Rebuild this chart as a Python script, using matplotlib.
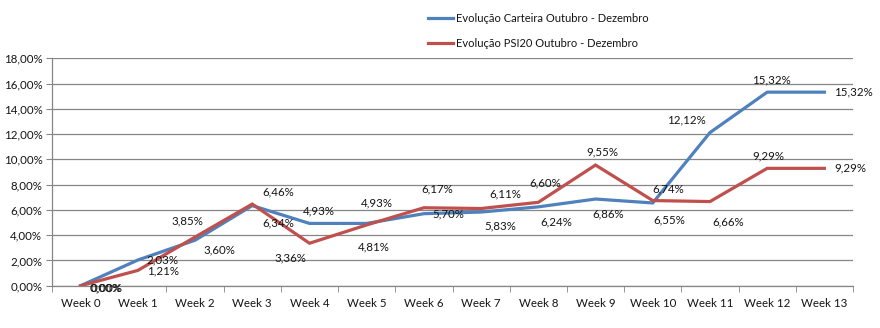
import numpy as np
import matplotlib
matplotlib.use('Agg')
from matplotlib import pyplot as plt
from matplotlib.ticker import FuncFormatter, MultipleLocator, FixedLocator

plt.rcParams['font.family'] = ['Lato', 'DejaVu Sans']
plt.rcParams['font.size'] = 8

#---- Data

weeks = ['Week 0', 'Week 1', 'Week 2', 'Week 3', 'Week 4', 'Week 5', 'Week 6',
         'Week 7', 'Week 8', 'Week 9', 'Week 10', 'Week 11', 'Week 12', 'Week 13']
carteira = [0.00, 2.03, 3.60, 6.34, 4.93, 4.93, 5.70, 5.83, 6.24, 6.86, 6.55, 12.12, 15.32, 15.32]
psi20 = [0.00, 1.21, 3.85, 6.46, 3.36, 4.81, 6.17, 6.11, 6.60, 9.55, 6.74, 6.66, 9.29, 9.29]

name_carteira = 'Evolução Carteira Outubro - Dezembro'
name_psi20 = 'Evolução PSI20 Outubro - Dezembro'

# label offsets in pixels (dx, dy), as placed in the original
off_carteira = [(25, -2), (25, 0), (24, -10), (26, -17), (9, 12), (10, 20), (24, 0),
                (19, -14), (18, -15), (13, -15), (17, -17), (-24, 13), (4, 12), (29, 0)]
off_psi20 = [(26, -2), (25, -1), (-8, 16), (26, 12), (-19, -15), (7, -22), (13, 19),
             (24, 15), (7, 19), (7, 13), (15, 12), (18, -20), (1, 12), (26, 0)]

BLUE = '#4F81BD'
RED = '#C0504D'
GRID = '#868686'
TEXT = '#141414'


def pct(v, pos=None):
    return ('%.2f%%' % v).replace('.', ',')


def plot_series(ax, x, y, color, label, offsets):
    ax.plot(x, y, color=color, lw=2.3, label=label, solid_joinstyle='miter', zorder=3)
    for xi, yi, (dx, dy) in zip(x, y, offsets):
        ax.annotate(pct(yi), (xi, yi), xytext=(dx, dy), textcoords='offset pixels',
                    ha='center', va='center', fontsize=8.3, color=TEXT, zorder=4)
    return ax


#---- Script

if __name__ == '__main__':

    fig = plt.figure(figsize=(8.8, 3.28), dpi=100)
    ax = fig.add_axes([52 / 880, 1 - 285.7 / 328, 801 / 880, 227.4 / 328])

    x = np.arange(len(weeks))
    plot_series(ax, x, carteira, BLUE, name_carteira, off_carteira)
    plot_series(ax, x, psi20, RED, name_psi20, off_psi20)

    ax.set_xlim(-0.5, len(weeks) - 0.5)
    ax.set_ylim(0, 18)
    ax.yaxis.set_major_locator(MultipleLocator(2))
    ax.yaxis.set_major_formatter(FuncFormatter(pct))
    ax.grid(axis='y', color=GRID, lw=0.9)
    ax.set_axisbelow(True)

    ax.set_xticks(x)
    ax.set_xticklabels(weeks)
    ax.xaxis.set_minor_locator(FixedLocator(np.arange(len(weeks) + 1) - 0.5))
    ax.tick_params(axis='x', which='major', length=0, pad=9, labelsize=8.3, colors=TEXT)
    ax.tick_params(axis='x', which='minor', length=4, color=GRID, direction='out')
    ax.tick_params(axis='y', length=4, labelsize=8.3, pad=3, colors=TEXT)
    ax.tick_params(axis='y', color=GRID)

    for s in ['top', 'right']:
        ax.spines[s].set_visible(False)
    for s in ['left', 'bottom']:
        ax.spines[s].set_color(GRID)
        ax.spines[s].set_linewidth(0.9)

    leg = fig.legend(loc='upper left', bbox_to_anchor=(428 / 880, 1 - 13 / 328),
                     frameon=False, borderpad=0, borderaxespad=0, handlelength=2.25,
                     handletextpad=0.25, labelspacing=1.25, fontsize=8)
    for t in leg.get_texts():
        t.set_color(TEXT)

    fig.savefig('out.png', dpi=100)
